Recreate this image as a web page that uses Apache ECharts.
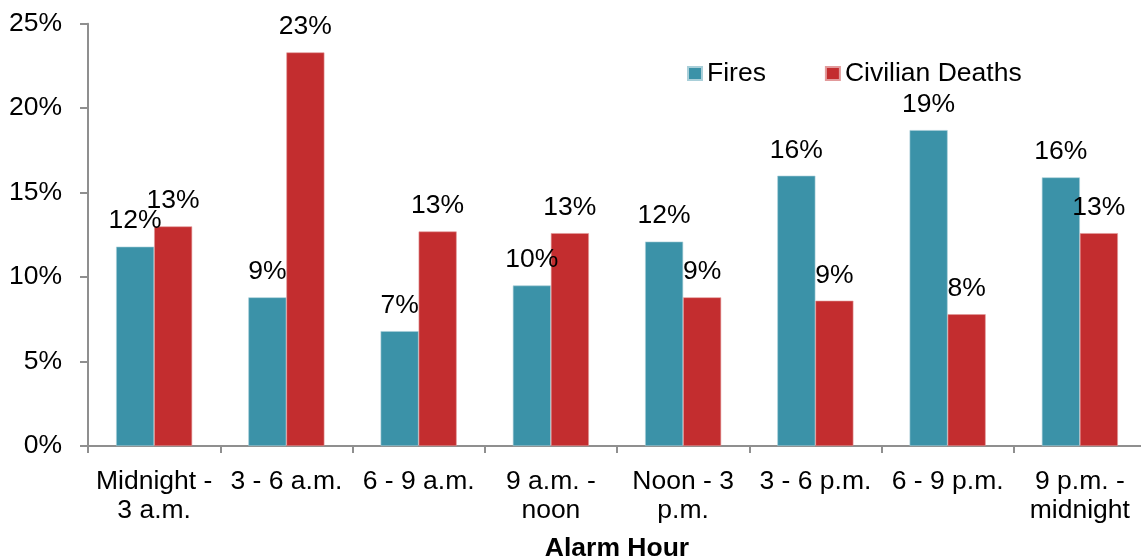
<!DOCTYPE html>
<html>
<head>
<meta charset="utf-8">
<script src="https://cdn.jsdelivr.net/npm/echarts@6/dist/echarts.min.js"></script>
<style>
  html, body { margin: 0; padding: 0; background: #fff; }
  #chart { width: 1141px; height: 558px; }
</style>
</head>
<body>
<div id="chart"></div>
<script>
// Share of home fires and civilian deaths by alarm hour (percent)
const categories = ['Midnight -\n3 a.m.', '3 - 6 a.m.', '6 - 9 a.m.', '9 a.m. -\nnoon',
                    'Noon - 3\np.m.', '3 - 6 p.m.', '6 - 9 p.m.', '9 p.m. -\nmidnight'];
const fires = [11.8, 8.8, 6.8, 9.5, 12.1, 16.0, 18.7, 15.9];
const civilianDeaths = [13.0, 23.3, 12.7, 12.6, 8.8, 8.6, 7.8, 12.6];
const yTicks = [0, 5, 10, 15, 20, 25];

const FONT = 'Liberation Sans, Arial, sans-serif';
const FS = 26.5;
const AXIS_GREY = '#8f8f8f';

const chart = echarts.init(document.getElementById('chart'), null, { renderer: 'canvas' });

const labelStyle = {
  show: true,
  position: 'top',
  distance: 12,
  fontFamily: FONT,
  fontSize: FS,
  color: '#000',
  formatter: p => Math.round(p.value) + '%'
};

chart.setOption({
  animation: false,
  textStyle: { fontFamily: FONT },
  legend: {
    left: 682,
    top: 55,
    itemWidth: 14,
    itemHeight: 13,
    itemGap: 59,
    icon: 'rect',
    textStyle: { fontFamily: FONT, fontSize: FS, color: '#000' },
    data: ['Fires', 'Civilian Deaths']
  },
  grid: {
    left: 88,
    top: 23.7,
    width: 1058,
    height: 422.3,
    containLabel: false,
    outerBoundsMode: 'none'
  },
  xAxis: {
    type: 'category',
    data: categories,
    name: 'Alarm Hour',
    nameLocation: 'middle',
    nameGap: 89,
    nameTextStyle: { fontFamily: FONT, fontSize: FS, fontWeight: 'bold', color: '#000' },
    axisLine: { lineStyle: { color: AXIS_GREY, width: 2 } },
    axisTick: { show: true, length: 7, lineStyle: { color: AXIS_GREY, width: 2 } },
    axisLabel: {
      interval: 0,
      margin: 21,
      fontFamily: FONT,
      fontSize: FS,
      lineHeight: 29,
      color: '#000'
    }
  },
  yAxis: {
    type: 'value',
    min: yTicks[0],
    max: yTicks[yTicks.length - 1],
    interval: yTicks[1] - yTicks[0],
    axisLine: { show: true, lineStyle: { color: AXIS_GREY, width: 2 } },
    axisTick: { show: true, length: 8, lineStyle: { color: AXIS_GREY, width: 2 } },
    splitLine: { show: false },
    axisLabel: {
      margin: 26,
      padding: [4, 0, 0, 0],
      fontFamily: FONT,
      fontSize: FS,
      color: '#000',
      formatter: v => v + '%'
    }
  },
  series: [
    {
      name: 'Fires',
      type: 'bar',
      data: fires,
      barGap: '0%',
      barCategoryGap: '42.5%',
      itemStyle: { color: '#3b92a8', borderColor: '#a9cfd9', borderWidth: 0.6 },
      label: labelStyle
    },
    {
      name: 'Civilian Deaths',
      type: 'bar',
      data: civilianDeaths,
      barGap: '0%',
      barCategoryGap: '42.5%',
      itemStyle: { color: '#c32d2f', borderColor: '#e29a9b', borderWidth: 0.6 },
      label: labelStyle
    }
  ]
});
</script>
</body>
</html>
